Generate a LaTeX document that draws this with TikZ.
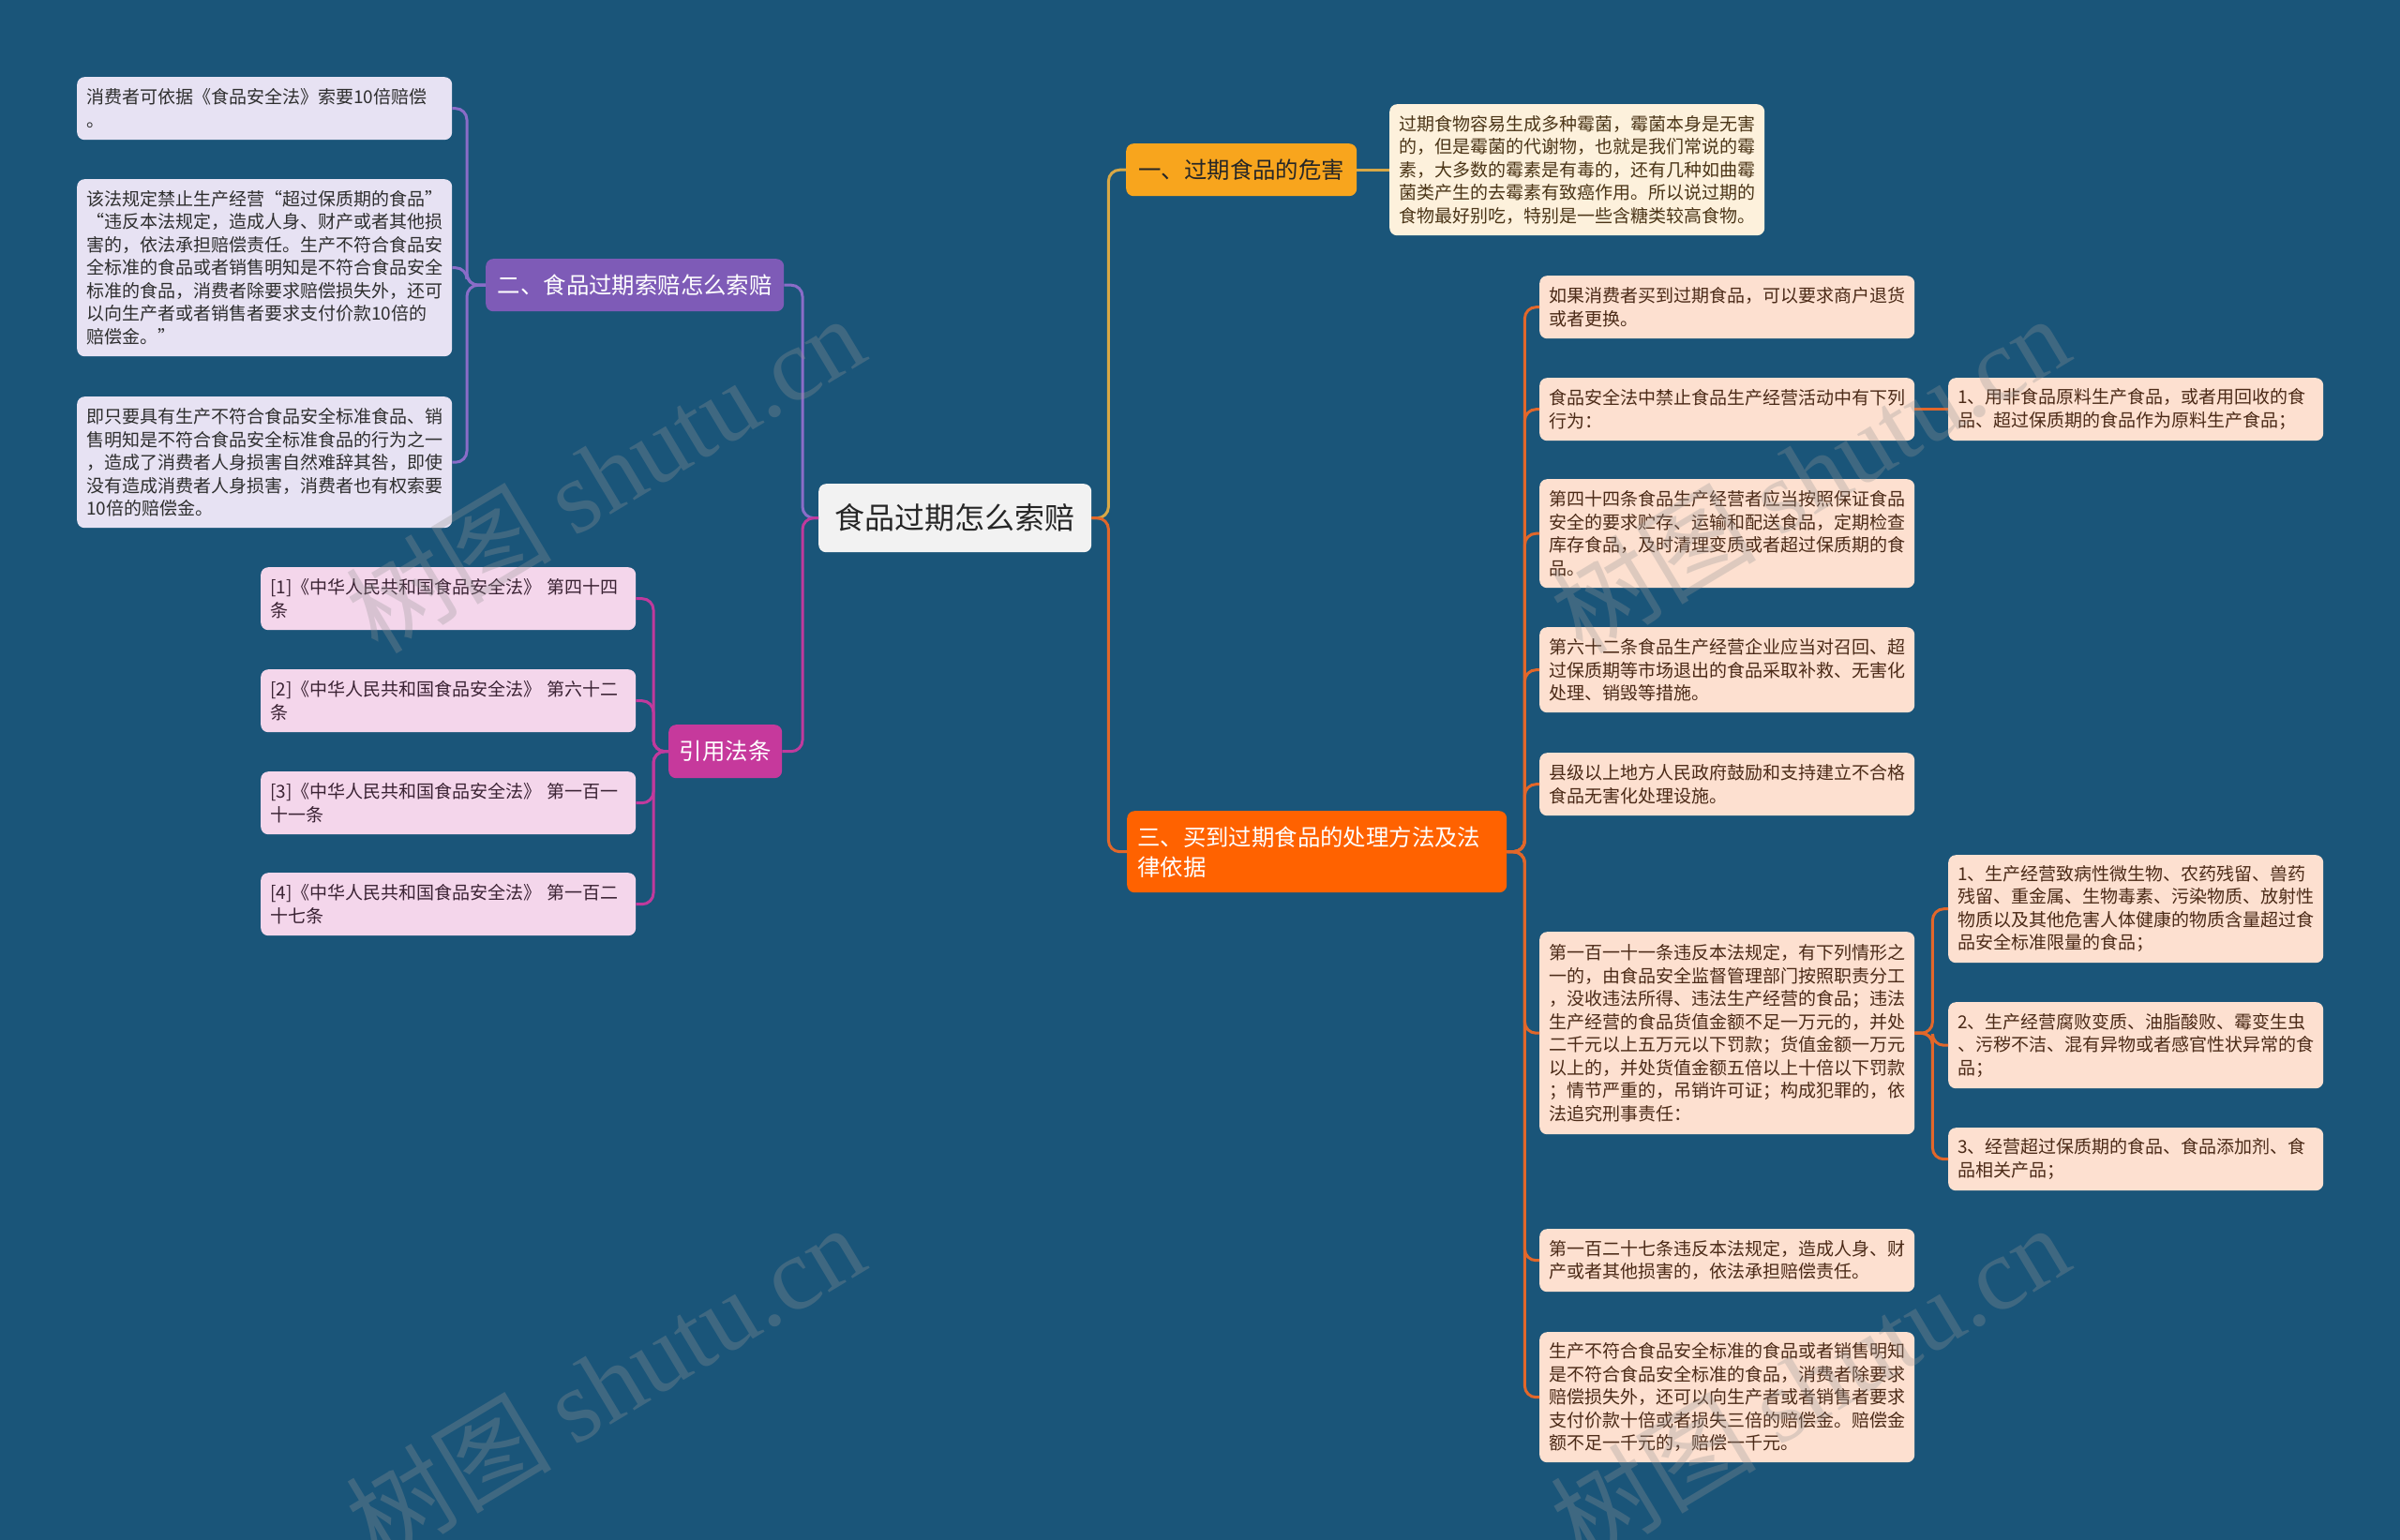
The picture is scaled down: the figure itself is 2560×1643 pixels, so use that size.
\documentclass[tikz,border=0pt]{standalone}
\usepackage{fontspec}
\setmainfont{Noto Sans CJK SC}
\newfontfamily\wmfont{Liberation Serif}
\definecolor{bg}{HTML}{1A5579}
\definecolor{rootfill}{HTML}{F2F2F2}
\definecolor{onefill}{HTML}{F8A51D}
\definecolor{twofill}{HTML}{7E5BB7}
\definecolor{threefill}{HTML}{FF6200}
\definecolor{fourfill}{HTML}{C6399C}
\definecolor{lavfill}{HTML}{E7E2F3}
\definecolor{pinkfill}{HTML}{F4D6EB}
\definecolor{peachfill}{HTML}{FDE0D0}
\definecolor{creamfill}{HTML}{FDF1DC}
\definecolor{purpleline}{HTML}{8A6CC8}
\definecolor{magline}{HTML}{C03A9D}
\definecolor{goldline}{HTML}{D8A846}
\definecolor{orangeline}{HTML}{E2672A}
\definecolor{lavtext}{HTML}{2E2E2E}
\definecolor{pinktext}{HTML}{3A2233}
\definecolor{peachtext}{HTML}{4B2A17}
\definecolor{creamtext}{HTML}{4B3517}
\definecolor{wmgray}{HTML}{969696}
\tikzset{
  leafbox/.style={anchor=north west, rounded corners=8pt, inner xsep=10pt, inner ysep=0pt,
    text width=380pt, align=left, minimum height=#1, font=\fontsize{19}{24.5}\selectfont},
  lavleaf/.style={leafbox=#1, fill=lavfill, text=lavtext},
  pinkleaf/.style={leafbox=#1, fill=pinkfill, text=pinktext},
  peachleaf/.style={leafbox=#1, fill=peachfill, text=peachtext},
  creamleaf/.style={leafbox=#1, fill=creamfill, text=creamtext},
  topic/.style={anchor=north west, rounded corners=8pt, inner sep=0pt, align=center,
    font=\fontsize{24.4}{32}\selectfont},
  conn/.style={line width=3pt, rounded corners=12pt},
  wm/.style={font=\fontsize{110}{110}\selectfont, text=wmgray, opacity=0.3, rotate=31}
}
\begin{document}
\begin{tikzpicture}[x=1pt,y=-1pt]
\useasboundingbox (0,0) rectangle (2560,1643);
\fill[bg] (0,0) rectangle (2560,1643);

% root
\node[topic, fill=rootfill, text=black!85, minimum width=291pt, minimum height=73pt,
  font=\fontsize{32}{36}\selectfont] (root) at (873,516) {食品过期怎么索赔};

% main topics
\node[topic, fill=onefill, text=black!85, minimum width=246pt, minimum height=56pt] (a) at (1201,153) {一、过期食品的危害};
\node[topic, fill=twofill, text=white, minimum width=318pt, minimum height=56pt] (b) at (518,276) {二、食品过期索赔怎么索赔};
\node[topic, fill=fourfill, text=white, minimum width=121pt, minimum height=57pt] (d) at (713,773) {引用法条};
\node[topic, fill=threefill, text=white, minimum height=87pt, inner xsep=11pt, text width=383pt, align=left] (c) at (1202,865) {三、买到过期食品的处理方法及法\\律依据};

% 一 child
\node[creamleaf=140pt] (ac) at (1482,111) {过期食物容易生成多种霉菌，霉菌本身是无害\\的，但是霉菌的代谢物，也就是我们常说的霉\\素，大多数的霉素是有毒的，还有几种如曲霉\\菌类产生的去霉素有致癌作用。所以说过期的\\食物最好别吃，特别是一些含糖类较高食物。};

% 二 children
\node[lavleaf=67pt] (b1) at (82,82) {消费者可依据《食品安全法》索要10倍赔偿\\。};
\node[lavleaf=189pt] (b2) at (82,191) {该法规定禁止生产经营“超过保质期的食品”\\“违反本法规定，造成人身、财产或者其他损\\害的，依法承担赔偿责任。生产不符合食品安\\全标准的食品或者销售明知是不符合食品安全\\标准的食品，消费者除要求赔偿损失外，还可\\以向生产者或者销售者要求支付价款10倍的\\赔偿金。”};
\node[lavleaf=140pt] (b3) at (82,423) {即只要具有生产不符合食品安全标准食品、销\\售明知是不符合食品安全标准食品的行为之一\\，造成了消费者人身损害自然难辞其咎，即使\\没有造成消费者人身损害，消费者也有权索要\\10倍的赔偿金。};

% 引用法条 children
\node[pinkleaf=67pt] (d1) at (278,605) {[1]《中华人民共和国食品安全法》~第四十四\\条};
\node[pinkleaf=67pt] (d2) at (278,714) {[2]《中华人民共和国食品安全法》~第六十二\\条};
\node[pinkleaf=67pt] (d3) at (278,823) {[3]《中华人民共和国食品安全法》~第一百一\\十一条};
\node[pinkleaf=67pt] (d4) at (278,931) {[4]《中华人民共和国食品安全法》~第一百二\\十七条};

% 三 children
\node[peachleaf=67pt] (c1) at (1642,294) {如果消费者买到过期食品，可以要求商户退货\\或者更换。};
\node[peachleaf=67pt] (c2) at (1642,403) {食品安全法中禁止食品生产经营活动中有下列\\行为：};
\node[peachleaf=67pt] (c2a) at (2078,403) {1、用非食品原料生产食品，或者用回收的食\\品、超过保质期的食品作为原料生产食品；};
\node[peachleaf=116pt] (c3) at (1642,511) {第四十四条食品生产经营者应当按照保证食品\\安全的要求贮存、运输和配送食品，定期检查\\库存食品，及时清理变质或者超过保质期的食\\品。};
\node[peachleaf=91pt] (c4) at (1642,669) {第六十二条食品生产经营企业应当对召回、超\\过保质期等市场退出的食品采取补救、无害化\\处理、销毁等措施。};
\node[peachleaf=67pt] (c5) at (1642,803) {县级以上地方人民政府鼓励和支持建立不合格\\食品无害化处理设施。};
\node[peachleaf=216pt] (c6) at (1642,994) {第一百一十一条违反本法规定，有下列情形之\\一的，由食品安全监督管理部门按照职责分工\\，没收违法所得、违法生产经营的食品；违法\\生产经营的食品货值金额不足一万元的，并处\\二千元以上五万元以下罚款；货值金额一万元\\以上的，并处货值金额五倍以上十倍以下罚款\\；情节严重的，吊销许可证；构成犯罪的，依\\法追究刑事责任：};
\node[peachleaf=115pt] (c6a) at (2078,912) {1、生产经营致病性微生物、农药残留、兽药\\残留、重金属、生物毒素、污染物质、放射性\\物质以及其他危害人体健康的物质含量超过食\\品安全标准限量的食品；};
\node[peachleaf=92pt] (c6b) at (2078,1069) {2、生产经营腐败变质、油脂酸败、霉变生虫\\、污秽不洁、混有异物或者感官性状异常的食\\品；};
\node[peachleaf=67pt] (c6c) at (2078,1203) {3、经营超过保质期的食品、食品添加剂、食\\品相关产品；};
\node[peachleaf=67pt] (c7) at (1642,1311) {第一百二十七条违反本法规定，造成人身、财\\产或者其他损害的，依法承担赔偿责任。};
\node[peachleaf=139pt] (c8) at (1642,1421) {生产不符合食品安全标准的食品或者销售明知\\是不符合食品安全标准的食品，消费者除要求\\赔偿损失外，还可以向生产者或者销售者要求\\支付价款十倍或者损失三倍的赔偿金。赔偿金\\额不足一千元的，赔偿一千元。};

% spine coordinates
\coordinate (sl) at ([xshift=-17pt]root.west);
\coordinate (sr) at ([xshift=18pt]root.east);
\coordinate (sb) at ([xshift=-20pt]b.west);
\coordinate (sd) at ([xshift=-16pt]d.west);
\coordinate (sc) at ([xshift=19pt]c.east);
\coordinate (sc6) at ([xshift=19pt]c6.east);

% connectors
\draw[conn, purpleline] (root.west) -- (sl) |- (b.east);
\draw[conn, magline] (root.west) -- (sl) |- (d.east);
\draw[conn, goldline] (root.east) -- (sr) |- (a.west);
\draw[conn, orangeline] (root.east) -- (sr) |- (c.west);
\draw[conn, goldline] (a.east) -- (ac.west);
\foreach \n in {b1,b2,b3} \draw[conn, purpleline] (b.west) -- (sb) |- (\n.east);
\foreach \n in {d1,d2,d3,d4} \draw[conn, magline] (d.west) -- (sd) |- (\n.east);
\foreach \n in {c1,c2,c3,c4,c5,c6,c7,c8} \draw[conn, orangeline] (c.east) -- (sc) |- (\n.west);
\draw[conn, orangeline] (c2.east) -- (c2a.west);
\foreach \n in {c6a,c6b,c6c} \draw[conn, orangeline] (c6.east) -- (sc6) |- (\n.west);

% watermarks
\node[wm] (wm1) at (645,505) {树图 {\wmfont shutu.cn}};
\node[wm] (wm2) at (645,1475) {树图 {\wmfont shutu.cn}};
\node[wm] (wm3) at (1930,505) {树图 {\wmfont shutu.cn}};
\node[wm] (wm4) at (1930,1475) {树图 {\wmfont shutu.cn}};
\end{tikzpicture}
\end{document}
